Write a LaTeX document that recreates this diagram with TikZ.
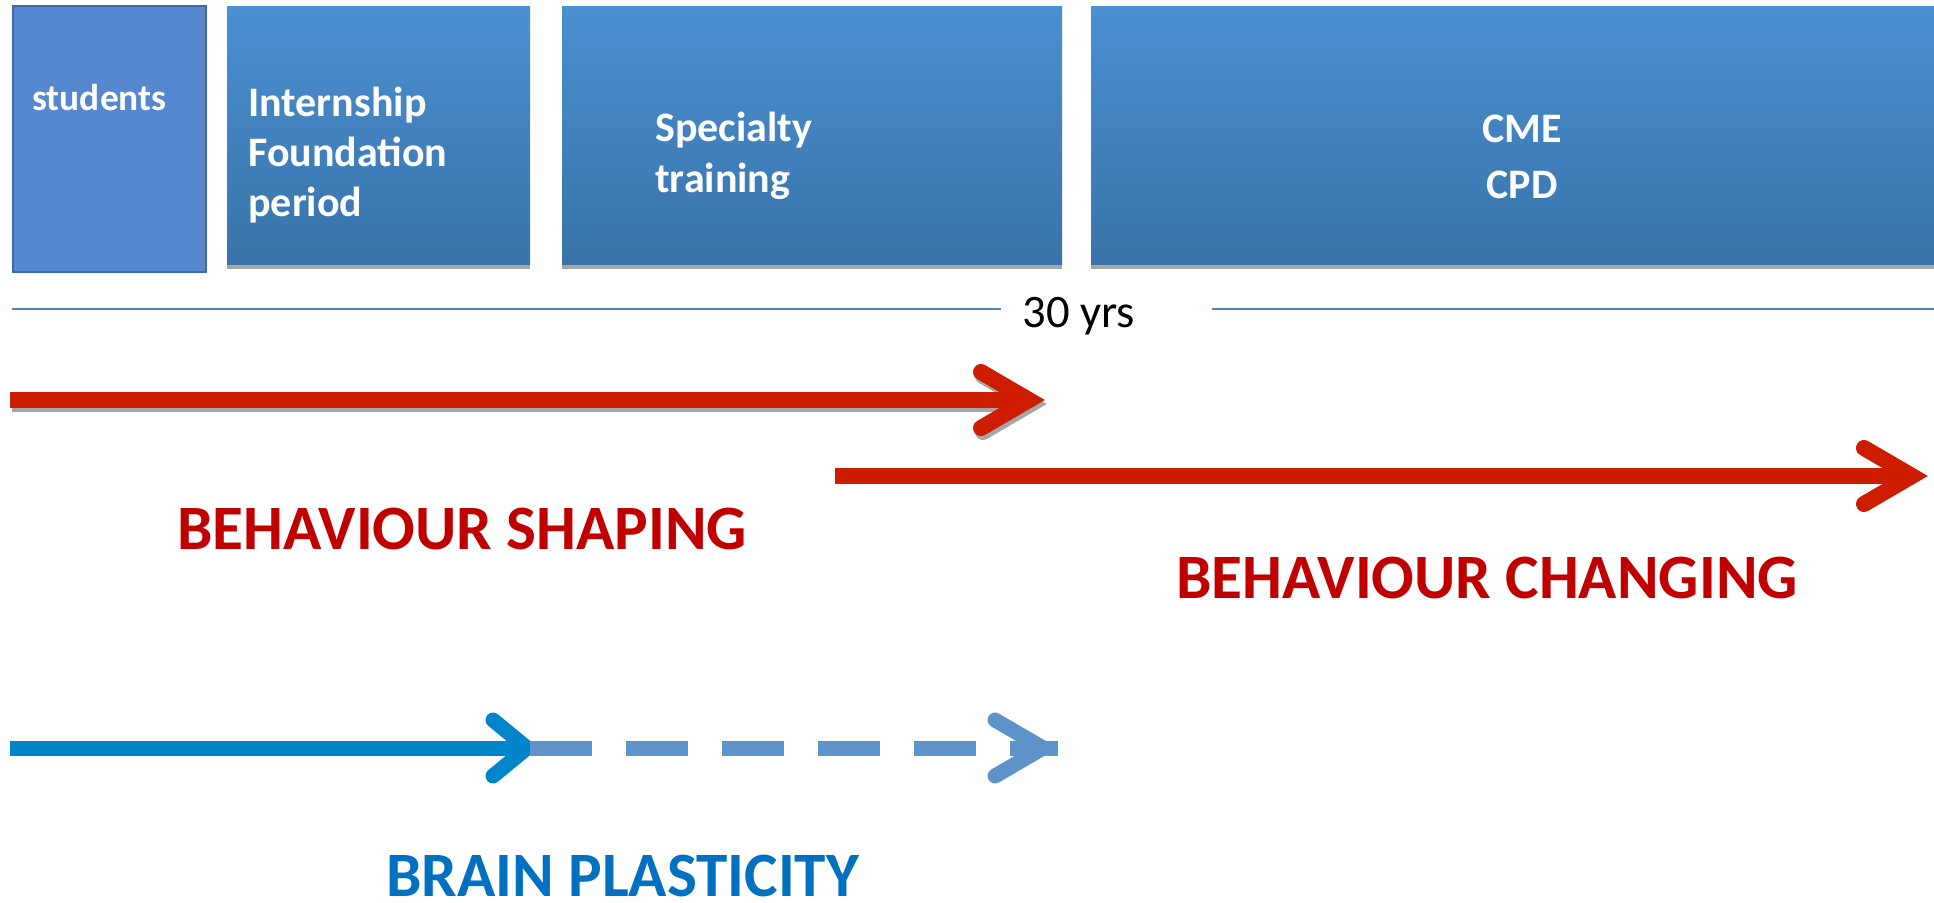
\documentclass[tikz,border=0pt]{standalone}
\usepackage{fontspec}
\setmainfont{Carlito}
\usetikzlibrary{calc}

\definecolor{stagetop}{RGB}{74,144,210}
\definecolor{stagebot}{RGB}{57,115,169}
\definecolor{stufill}{RGB}{85,136,206}
\definecolor{stuedge}{RGB}{60,107,170}
\definecolor{shadowgray}{RGB}{166,166,166}
\definecolor{yrsline}{RGB}{79,129,189}
\definecolor{arrowred}{RGB}{205,28,0}
\definecolor{textred}{RGB}{192,0,0}
\definecolor{arrowblue}{RGB}{0,132,202}
\definecolor{fadeblue}{RGB}{93,147,200}
\definecolor{textblue}{RGB}{0,112,192}

\begin{document}
\begin{tikzpicture}[x=0.5pt,y=-0.5pt,
  stagebox/.style={top color=stagetop,bottom color=stagebot,draw=none},
  boxshadow/.style={fill=shadowgray},
  boxtext/.style={inner sep=0pt,anchor=base west,text=white,
    font=\fontsize{21}{25}\selectfont\bfseries},
  bigtext/.style={inner sep=0pt,anchor=base west,
    font=\fontsize{31.6}{38}\selectfont\bfseries},
  redshaft/.style={draw=arrowred,line width=8pt},
  redhead/.style={draw=arrowred,line width=8pt,line cap=round,miter limit=10},
  blueshaft/.style={draw=arrowblue,line width=7.5pt},
  bluehead/.style={draw=arrowblue,line width=7.5pt,line cap=round,miter limit=10},
  fadeshaft/.style={draw=fadeblue,line width=7.5pt,dash pattern=on 31pt off 17pt},
  fadehead/.style={draw=fadeblue,line width=7.5pt,line cap=round,miter limit=10},
  shadowed/.style={transform canvas={xshift=1pt,yshift=-2pt}}]
\useasboundingbox (0,0) rectangle (1934,903);

% stage boxes along the top
\filldraw[fill=stufill,draw=stuedge,line width=1pt] (12.5,6) rectangle (206,272);
\fill[boxshadow] (227,10) rectangle (530,269);
\path[stagebox] (227,7) rectangle (530,265);
\fill[boxshadow] (562,10) rectangle (1062,269);
\path[stagebox] (562,7) rectangle (1062,265);
\fill[boxshadow] (1091,10) rectangle (1934,269);
\path[stagebox] (1091,7) rectangle (1934,265);

\node[boxtext,font=\fontsize{18.7}{22}\selectfont\bfseries] (stu) at (32,110.7) {students};
\node[boxtext] (int1) at (248,117) {Internship};
\node[boxtext] (int2) at (248,167) {Foundation};
\node[boxtext] (int3) at (248,217) {period};
\node[boxtext] (spe1) at (655,142) {Specialty};
\node[boxtext] (spe2) at (655,193) {training};
\node[boxtext,anchor=base] (cme) at (1522,143) {CME};
\node[boxtext,anchor=base] (cpd) at (1522,199) {CPD};

% time line
\node[inner sep=0pt,anchor=base west,font=\fontsize{23.3}{28}\selectfont] (yrs) at (1022,328) {30 yrs};
\coordinate (tlA) at (12,309);
\coordinate (tlB) at (1001,309);
\coordinate (tlC) at (1212,309);
\coordinate (tlD) at (1934,309);
\draw[yrsline,line width=1pt] (tlA) -- (tlB);
\draw[yrsline,line width=1pt] (tlC) -- (tlD);

% behaviour shaping arrow (with drop shadow)
\coordinate (shA) at (10,400);
\coordinate (shB) at (1029,400);
\coordinate (shU) at (981,372);
\coordinate (shL) at (981,428);
\begin{scope}[shadowed]
  \draw[redshaft,draw=shadowgray] (shA) -- (shB);
  \draw[redhead,draw=shadowgray] (shU) -- (shB) -- (shL);
\end{scope}
\draw[redshaft] (shA) -- (shB);
\draw[redhead] (shU) -- (shB) -- (shL);

% behaviour changing arrow
\coordinate (chA) at (835,476);
\coordinate (chB) at (1912,476);
\coordinate (chU) at (1864,448);
\coordinate (chL) at (1864,504);
\draw[redshaft] (chA) -- (chB);
\draw[redhead] (chU) -- (chB) -- (chL);

\node[bigtext,text=textred] (shaping) at (177,550) {BEHAVIOUR SHAPING};
\node[bigtext,text=textred] (changing) at (1176,598) {BEHAVIOUR CHANGING};

% brain plasticity arrow, solid then dashed
\coordinate (bpA) at (10,748);
\coordinate (bpB) at (527,748);
\coordinate (bpU) at (493,720);
\coordinate (bpL) at (493,776);
\coordinate (bpC) at (530,748);
\coordinate (bpD) at (1043,748);
\coordinate (bpE) at (1058,748);
\coordinate (bpV) at (995,720);
\coordinate (bpW) at (995,776);
\draw[blueshaft] (bpA) -- (bpB);
\draw[bluehead] (bpU) -- (bpB) -- (bpL);
\draw[fadeshaft] (bpC) -- (bpE);
\draw[fadehead] (bpV) -- (bpD) -- (bpW);

\node[bigtext,text=textblue] (brain) at (386,896) {BRAIN PLASTICITY};
\end{tikzpicture}
\end{document}
